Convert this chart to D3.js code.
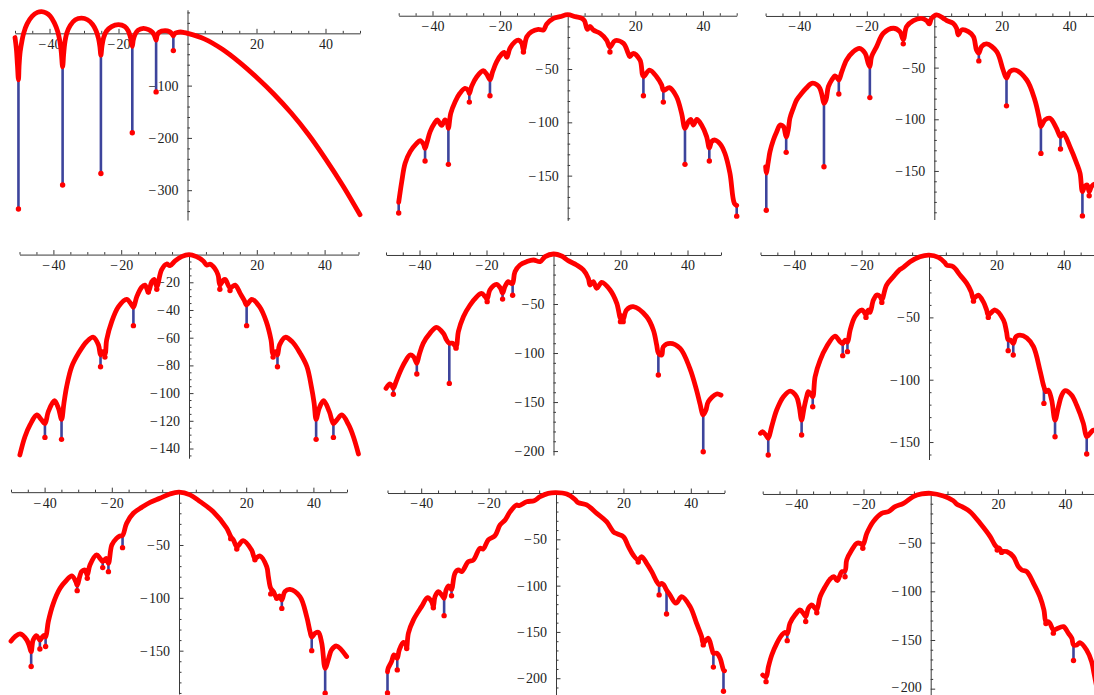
<!DOCTYPE html>
<html>
<head>
<meta charset="utf-8">
<script src="https://cdn.jsdelivr.net/npm/d3@7"></script>
<style>
  body { margin: 0; background: #fff; }
  svg { display: block; }
</style>
</head>
<body>
<svg id="chart" width="1094" height="695"></svg>
<script>
// labelled x ticks, shared by every panel
const xTickLabels = [-40, -20, 20, 40];

// each panel: curve points [x, y] and nulls [x, top of spike, bottom of spike]
const curve1 = [[-50,-8],[-49.6,-30],[-49.3,-60],[-49,-89],
  [-48.8,-60],[-48.5,-35],[-48,-15],[-47.5,0],[-46.5,18],[-45,33],[-43.5,40],[-42.3,41.5],[-41,39],[-39.8,33],[-38.6,20],[-37.6,3],[-37,-15],[-36.6,-35],[-36.2,-64],
  [-35.9,-40],[-35.6,-20],[-35,0],[-34,15],[-32.5,26],[-30.7,29],[-29,26],[-27.5,17],[-26.5,5],[-25.8,-10],[-25.4,-25],[-25.1,-42],
  [-24.8,-25],[-24.3,-8],[-23.5,4],[-22,13],[-20,16.5],[-18.2,13],[-17.2,5],[-16.6,-6],[-16.3,-14],[-16,-25],
  [-15.7,-12],[-15.2,-2],[-14.3,6],[-12.8,9.5],[-11.3,7],[-10.2,2],[-9.6,-4],[-9.1,-13],
  [-8.8,-4],[-8.2,2],[-6.5,5],[-5.2,3],[-4.5,-1],[-4.1,-5],
  [-3.8,-1],[-3,1.5],[-2,2.5],[-1,1.5],[0,0],
  [5,-11],[10,-30],[15,-55],[20,-84],[25,-116],[30,-152],[35,-193],[40,-240],[45,-291],[50,-347]];
const nulls1 = [[-49,-89,-336],[-36.2,-64,-290],[-25.1,-42,-268],[-16,-25,-190],[-9.1,-13,-112],[-4.1,-5,-33]];

const curve2 = [[-50,-175],[-49.1,-155.6],[-48.1,-138.4],[-46.6,-127.5],[-44.7,-119.7],[-43.7,-117.2],[-42.7,-120.3],[-42.2,-124.4],
  [-41.7,-119.7],[-40.7,-108.8],[-39.3,-100.3],[-38.6,-97.8],[-37.3,-102.8],[-36.3,-97.8],[-35.6,-101],[-35.3,-105.6],
  [-34.6,-91.6],[-33.3,-80.6],[-31.9,-72.8],[-30.4,-68.1],[-29.4,-70.3],[-29.1,-73],
  [-28.4,-66],[-26.9,-57.2],[-25,-51.6],[-24,-54.7],[-23,-60],
  [-22.2,-52.5],[-21,-43.1],[-19.5,-35.9],[-18.8,-34.4],[-18,-39],
  [-17.1,-30.6],[-15.6,-24.4],[-14.6,-22.8],[-13.6,-25.9],[-13.1,-32],
  [-12.1,-19.7],[-10.7,-15],[-8.7,-12.8],[-7.2,-13.4],[-6.2,-7.8],[-4.2,-2.5],[-2.3,-0.9],[0,1],
  [2.3,-0.9],[4.2,-2.5],[5,-5],[5.8,-12.8],[6.6,-10],[7.6,-13.4],[9.6,-16.6],[11.5,-22.8],[12.5,-29.4],
  [14,-23.4],[16.5,-25.9],[17.9,-35.3],[18.4,-38.4],[19.4,-35.3],[21.4,-41.6],[22.4,-57],
  [24.2,-51],[26.3,-57.2],[27.8,-65],[28.3,-70],
  [30.1,-67.5],[32.2,-76],[33.7,-91.6],[34.7,-105.6],
  [35.7,-99.4],[36.4,-97.2],[37.2,-102.5],[38.2,-97.2],[39.6,-102.5],[41.1,-113.4],[41.9,-124],
  [42.6,-118],[43.6,-116.6],[45.1,-120.3],[46.5,-129],[48,-147.8],[49.3,-176],[50,-178]];
const nulls2 = [[-50,-175,-185],[-42.2,-124.4,-136.3],[-35.3,-105.6,-139.4],[-29.1,-73,-81],[-23,-60,-75],[-13.1,-32,-34],
  [12.5,-29.4,-34],[22.4,-57,-75],[28.3,-70,-81],[34.7,-105.6,-139.4],[41.9,-124,-136.3],[50,-178,-188]];

const curve3 = [[-50,-145.8],[-49.8,-152],[-49.2,-141],[-48.7,-131.3],[-47.7,-120],[-46.7,-112],[-45.7,-105.5],[-44.7,-107.1],[-43.9,-117],
  [-43.3,-110.3],[-42.8,-99],[-41.8,-89.4],[-40.8,-81.3],[-39.3,-74.8],[-38,-70],[-36.3,-65.2],[-34.8,-66.5],[-33.9,-70],[-33.2,-78],[-32.7,-84.5],
  [-32.1,-81.3],[-31.4,-68.4],[-30.4,-62],[-29.4,-58],[-28.7,-60.3],[-28.3,-62],
  [-27.4,-53.9],[-26,-42.6],[-24,-34.5],[-22.2,-31.3],[-20.5,-36.1],[-19.6,-45.8],[-19.1,-49],
  [-18.6,-39.4],[-17.1,-29.7],[-15.1,-16.8],[-12.1,-11.9],[-10.2,-15.2],[-9.2,-23],
  [-8.2,-10.3],[-6.2,-4.5],[-3.8,-2.3],[-2.3,-4.5],[-1.5,-7.7],[-0.8,-2.3],[0.7,1],[2.7,-2.3],[3.7,-4.5],[5.6,-7.1],[6.6,-11.9],[7.1,-18.4],[8.1,-13.5],[10.1,-15.2],[11.6,-20],[12.5,-32.9],[13.2,-36],
  [14,-29.7],[15.5,-27.1],[18.5,-34.5],[20.4,-52.3],[21.4,-60],
  [22.4,-53.9],[23.9,-52.3],[27.4,-62],[29.8,-81.3],[31.1,-99],[31.6,-107],
  [32.8,-100.6],[34.3,-99],[36.2,-108.7],[37.4,-116.8],
  [38.2,-113.5],[40.2,-126.5],[42.2,-142.6],[43.2,-152.3],[43.9,-170],
  [44.6,-165],[45.3,-163.5],[45.9,-170],[46.6,-165],[47.6,-162.6],[49,-166]];
const nulls3 = [[-49.8,-152,-188],[-43.9,-117,-132],[-32.7,-84.5,-146],[-28.3,-62,-75.5],[-19.1,-49,-79],[-9.2,-23,-27],
  [13.2,-36,-43.5],[21.4,-60,-87],[31.6,-107,-133],[37.4,-116.8,-128.7],[43.9,-170,-193.5],[45.9,-170,-174]];

const curve4 = [[-49.9,-144.7],[-48.4,-131.5],[-46.9,-123],[-44.9,-115.8],[-43.5,-119.4],[-42.5,-122],
  [-41.5,-113.4],[-39.7,-105.5],[-38.5,-111],[-37.6,-119],
  [-36.9,-107.4],[-36.1,-95.4],[-34.6,-80.9],[-32.6,-71.3],[-30.2,-62.9],[-28.2,-59.7],[-26.7,-65.3],[-26.1,-72.5],[-25.5,-70.1],[-24.8,-72],
  [-24.3,-61.7],[-22.8,-48.4],[-20.8,-37.6],[-18.4,-32.3],[-16.9,-36.4],[-16.4,-38],
  [-15.4,-30.4],[-14,-23.7],[-13,-22],[-12,-27],[-11,-19.6],[-10.3,-17.9],[-9.5,-23],
  [-8.1,-11.1],[-6.6,-6.8],[-5.6,-8],[-4.1,-4.6],[-2.2,-1.5],[0,0],
  [2.2,-1.5],[4.2,-4.6],[5.2,-7.5],[6.3,-7],[7.6,-10],[8.6,-15],[9.1,-22],
  [10.1,-18.5],[10.7,-18],[12.1,-24],[13.6,-22],[15.1,-28],[16.3,-33],[17,-36.4],
  [18.5,-32.3],[20.8,-37.6],[22.8,-48.4],[24.2,-61.7],[24.8,-72],[25.5,-70],[26.1,-72.5],
  [26.7,-65.3],[28.4,-59.7],[30.5,-63],[32.8,-71.3],[34.8,-81],[36.1,-95.4],[36.9,-107],[37.5,-119],
  [38.4,-111],[39.7,-105.5],[41.4,-113.4],[42.6,-122],
  [43.6,-119.4],[45.1,-115.8],[47.1,-123],[48.5,-131.5],[50,-144]];
const nulls4 = [[-42.5,-122,-132],[-37.6,-119,-133.4],[-26.1,-72.5,-81],[-24.8,-72,-74],[-16.4,-38,-51.3],[-12,-27,-27],[-9.5,-23,-25],
  [9.1,-22,-25],[12.1,-24,-26],[17,-36.4,-51.3],[24.8,-72,-74],[26.1,-72.5,-81],[37.5,-119,-133.4],[42.6,-122,-132]];

const curve5 = [[-50,-136],[-48.8,-131.6],[-48.2,-133.7],[-47.8,-136],
  [-47,-129.3],[-45.8,-119],[-44.3,-108.8],[-42.8,-102],[-41.8,-103.7],[-41.2,-107.8],[-40.8,-110.5],
  [-40.1,-102],[-38.9,-90.1],[-36.9,-79.9],[-34.9,-73.8],[-32.9,-79.9],[-31.9,-86.7],[-31.1,-90],[-30.1,-90],[-29.1,-93.5],
  [-28.4,-78.2],[-26.9,-62.9],[-24.9,-51],[-22.9,-42.5],[-21.5,-39.1],[-20.4,-42.5],[-19.8,-45],
  [-19,-35.7],[-17,-29.9],[-15.8,-34],[-15.2,-39],
  [-14.5,-32.3],[-13.5,-27.2],[-12.7,-28.9],[-12.2,-29],
  [-11.5,-17],[-10,-10.2],[-8,-6.8],[-6,-5.1],[-4,-6.8],[-2.5,-1.7],[0,1],[2.4,-1],[4.4,-5.8],[6.9,-10.2],[8.9,-15.3],[10.4,-23.8],[10.9,-30.6],[11.9,-27.2],[12.9,-34],[14.4,-27.9],[16.9,-35.7],[18.9,-49.3],[20,-64.6],
  [20.4,-62],[20.8,-66],
  [21.8,-56.1],[23.8,-52.7],[27.8,-62.9],[29.8,-76.5],[30.8,-91.8],[31.3,-100],[32.3,-102],
  [32.8,-93.5],[34.8,-90.1],[37.8,-95.2],[40.7,-115.6],[42.7,-137.8],[43.7,-151.4],[44.7,-163],
  [45.5,-158.2],[46.2,-149.7],[48.7,-141.8],[50,-143]];
const nulls5 = [[-47.8,-136,-142],[-40.8,-110.5,-121.4],[-31.1,-90,-131],[-29.1,-93.5,-95],[-19.8,-45,-47.6],[-15.2,-39,-45],[-12.2,-29,-41],
  [20,-64.6,-68],[20.8,-66,-68],[31.3,-100,-122.4],[44.7,-163,-200.7]];

const curve6 = [[-50,-143],[-49.4,-141.7],[-48.4,-144.4],[-47.7,-147],
  [-46.7,-137.7],[-45.2,-124.3],[-43.2,-113.6],[-41.2,-109.1],[-39.3,-113.6],[-38.5,-121.7],[-37.8,-132.4],
  [-37.1,-123],[-36.3,-113.6],[-35.8,-109.6],[-35.1,-111.5],[-34.5,-113.6],
  [-33.8,-97.6],[-32.3,-84.2],[-30.4,-73.5],[-27.9,-65],[-26.4,-69.5],[-25.6,-71],[-24.9,-68.2],[-24.2,-70],
  [-23.4,-60.2],[-22,-49.5],[-20,-44.1],[-19.3,-45.5],[-18.7,-48],[-18,-44.1],[-17.5,-46],
  [-16.5,-36.1],[-15.5,-32.1],[-14.5,-33.4],[-14,-36],
  [-12.6,-24.1],[-10.6,-17.4],[-8.6,-11.5],[-7.6,-9.9],[-5.6,-5.3],[-2.7,-1.3],[0,0],
  [2.8,-1.9],[4.7,-6.1],[5.2,-8],[7.2,-9.4],[9.2,-16],[11.2,-22.7],[12.5,-29.4],[13.2,-34.8],
  [14.6,-32.1],[16.1,-37.4],[17.1,-44.1],[17.6,-48],
  [19.6,-44.1],[22.1,-52.1],[23,-61.5],[23.5,-68],[24.2,-68.2],[25,-70.9],[25.8,-65.5],
  [27,-64.2],[29,-66.5],[31,-73.5],[32.9,-92.2],[33.7,-101.6],[34.1,-105.6],
  [34.7,-109.6],[35.4,-108.3],[36.4,-116.3],[37.4,-132.4],
  [38.4,-121.7],[39.4,-112.3],[40.4,-108.8],[42.3,-112.3],[43.8,-120.3],[45.8,-135],[46.8,-145.7],
  [47.8,-143],[48.8,-140.4],[50,-142]];
const nulls6 = [[-47.7,-147,-160.4],[-37.8,-132.4,-144.4],[-34.5,-113.6,-121.7],[-25.6,-71,-80.7],[-24.2,-70,-77.5],[-18.7,-48,-50],[-14,-36,-38],
  [13.2,-34.8,-37],[17.6,-48,-50],[23.5,-68,-76.7],[25,-70.9,-80.2],[34.1,-105.6,-119],[37.4,-132.4,-145.7],[46.8,-145.7,-159.6]];

const curve7 = [[-50,-141],[-48.8,-136.7],[-47.3,-134.2],[-45.3,-139.9],[-44.5,-146.2],[-44,-151],
  [-43.4,-139.9],[-42.4,-135.8],[-41.4,-140],
  [-40.6,-136.7],[-40.2,-135.5],[-39.7,-137],
  [-38.9,-122.5],[-37.4,-105.2],[-35.4,-91],[-33.4,-83.1],[-31.9,-79.3],[-30.7,-84.7],[-30.3,-88],
  [-29,-75.2],[-28,-73.6],[-27.3,-78.4],
  [-26.5,-68.9],[-24.5,-59.4],[-23.5,-62.6],[-22.7,-65.7],[-21.7,-62.6],[-21,-67.3],
  [-20,-50],[-18.6,-43.7],[-17.6,-41.5],[-16.8,-41],
  [-15.6,-29.5],[-13.6,-20],[-11.1,-14.4],[-8.6,-9.6],[-5.7,-5.8],[-2.7,-1.7],[0,0],
  [3.3,-2.6],[6.3,-9],[10.2,-18.5],[14.2,-34.2],[15.4,-42],[16.2,-45.2],[17.2,-51.6],
  [19.1,-45.9],[21.6,-54.7],[22.6,-62.6],[24.1,-60.4],[26.1,-70.5],[26.6,-80],[27.3,-91],
  [28.1,-94.1],[29.1,-100],[29.9,-98.2],[30.6,-102],
  [31.5,-94.1],[33,-92],[36,-98.9],[38,-117.8],[39,-132],[39.5,-137],
  [40.5,-133.6],[41.5,-132.6],[42.5,-143],[43.5,-166.7],
  [44.4,-158.8],[45.4,-149.3],[46.9,-145.6],[49.9,-155.6]];
const nulls7 = [[-44,-151,-165],[-41.4,-140,-148.4],[-39.7,-137,-146],[-30.3,-88,-93.2],[-27.3,-78.4,-81.5],[-22.7,-65.7,-71.4],[-21,-67.3,-75.2],[-16.8,-41,-52.5],
  [15.4,-42,-44],[17.2,-51.6,-53.8],[22.6,-62.6,-64],[27.3,-91,-96.3],[29.1,-100,-100.5],[30.6,-102,-110],[39.5,-137,-150],[43.5,-166.7,-190.3]];

const curve8 = [[-50,-193],[-49.8,-189.2],[-48.8,-182],[-48.1,-174.8],[-47.5,-177.3],[-47.1,-178.4],
  [-46.5,-169.4],[-45.3,-161.2],[-44.5,-164],[-44.3,-167],
  [-43.8,-151.4],[-42.3,-137],[-39.9,-122.7],[-38.1,-113],[-36.9,-117.3],[-36.4,-122.7],
  [-35.9,-111.9],[-34.9,-106.5],[-33.9,-110.1],[-33.2,-113.7],
  [-32.6,-104.7],[-31.9,-100.4],[-31.5,-101.8],[-31,-104],
  [-30,-86.7],[-29,-83.1],[-28,-84.9],[-26,-74.1],[-24.5,-72.3],[-22.6,-59.7],[-21.6,-60.4],[-20.1,-50.7],[-18.1,-46],[-16.6,-34.5],[-15.1,-29.1],[-13.6,-20.1],[-11.7,-12.9],[-10.9,-13.7],[-8.7,-9.4],[-6.5,-8.3],[-4.7,-4],[-2.3,-0.4],[0,0.4],
  [3.2,-1.1],[5.6,-6.8],[6.6,-10.4],[9.1,-12.9],[12.1,-21.9],[15,-30.9],[17,-41.7],[18.2,-44.2],[20,-47.1],[21.5,-57.9],[22.9,-66.9],[24.4,-72.3],
  [25.4,-68.7],[26.9,-75.9],[28.4,-84.9],[29.9,-95.7],[30.6,-99],
  [31.4,-97.5],[32,-99.3],[32.8,-104.7],
  [33.8,-110],[35.6,-119],[37.3,-111.9],[39.8,-122.7],[41.7,-140.6],[43.2,-155],[43.7,-162],
  [45.2,-156.8],[46.2,-167.6],[46.7,-173],
  [47.7,-173],[48.7,-178.4],[49.7,-191],[50,-192]];
const nulls8 = [[-50,-193,-216],[-47.1,-178.4,-191],[-44.3,-167,-168],[-36.4,-122.7,-124],[-33.2,-113.7,-132.4],[-31,-104,-111],
  [24.4,-72.3,-74.5],[30.6,-99,-110],[32.8,-104.7,-130.6],[43.7,-162,-164],[46.7,-173,-188],[49.7,-191,-214]];

const curve9 = [[-50,-186],[-49,-188],[-48.3,-177.4],[-47.3,-165.4],[-45.8,-153.4],[-44.3,-144.9],[-43.4,-142.1],[-42.7,-143.5],
  [-41.9,-132.9],[-40.4,-124.3],[-38.9,-119.2],[-37.9,-122.6],[-37.2,-126],
  [-36.4,-117.5],[-35.4,-114],[-34.4,-117.5],[-33.9,-119],
  [-32.9,-105.5],[-31.4,-95.2],[-30,-87.7],[-28.8,-84.9],[-27.8,-89],[-26.5,-80],[-25.5,-79],
  [-25,-67.8],[-23.5,-57.5],[-22,-50.7],[-21,-50.7],[-20.2,-52.4],
  [-19,-40.4],[-17.1,-28.4],[-14.6,-19.9],[-12.6,-18.2],[-10.6,-13],[-8.1,-9.6],[-5.2,-2.7],[-2.7,0],[0,0.7],
  [3.8,-2],[6.7,-6.8],[7.7,-10.3],[9.7,-13.7],[11.7,-18.2],[14.7,-30.1],[17.7,-43.8],[19.1,-52.4],[19.8,-55],
  [20.4,-55.8],[21.1,-58.6],[22.6,-59.2],[24.6,-64.4],[26.1,-74.7],[27.1,-78.1],[28.6,-79.8],[30.6,-91.8],[32.5,-105.5],[33.7,-119.2],[34.3,-131],
  [35,-131.2],[35.5,-132.9],[36.5,-139.7],
  [37.3,-139],[39.5,-136.3],[41,-143.2],[42,-148.3],[42.5,-155],
  [43.5,-155.1],[44.4,-152.7],[46.4,-160.3],[47.9,-172.3],[48.6,-184.2],[49.5,-200]];
const nulls9 = [[-49,-188,-192.8],[-42.7,-143.5,-150.7],[-37.2,-126,-131],[-33.9,-119,-122],[-25.5,-79,-85],[-20.2,-52.4,-55.8],
  [19.8,-55,-57.5],[21.1,-58.6,-60],[34.3,-131,-133],[36.5,-139.7,-143],[42.5,-155,-171]];

// labelled y ticks per panel
const yTicks1 = [-300, -200, -100];
const yTicks2 = [-150, -100, -50];
const yTicks3 = [-150, -100, -50];
const yTicks4 = [-140, -120, -100, -80, -60, -40, -20];
const yTicks5 = [-200, -150, -100, -50];
const yTicks6 = [-150, -100, -50];
const yTicks7 = [-150, -100, -50];
const yTicks8 = [-200, -150, -100, -50];
const yTicks9 = [-200, -150, -100, -50];

// where each panel sits on the page
const panels = [
  {curve: curve1, nulls: nulls1, yTicks: yTicks1, minor: 20, yDomain: [-357, 45], xRange: [15, 360],   yRange: [220, 9.8]},
  {curve: curve2, nulls: nulls2, yTicks: yTicks2, minor: 10, yDomain: [-192, 2],  xRange: [398.7, 736.7], yRange: [220.4, 13.6]},
  {curve: curve3, nulls: nulls3, yTicks: yTicks3, minor: 10, yDomain: [-197, 2],  xRange: [765.6, 1103], yRange: [219.5, 13.9]},
  {curve: curve4, nulls: nulls4, yTicks: yTicks4, minor: 5,  yDomain: [-147, 1],  xRange: [19.5, 358.5], yRange: [458.2, 253.2]},
  {curve: curve5, nulls: nulls5, yTicks: yTicks5, minor: 10, yDomain: [-204, 1],  xRange: [386, 721],    yRange: [455, 254]},
  {curve: curve6, nulls: nulls6, yTicks: yTicks6, minor: 10, yDomain: [-164, 1],  xRange: [760.5, 1097.5], yRange: [459.5, 253.8]},
  {curve: curve7, nulls: nulls7, yTicks: yTicks7, minor: 10, yDomain: [-191, 1],  xRange: [11, 347],     yRange: [694, 491.1]},
  {curve: curve8, nulls: nulls8, yTicks: yTicks8, minor: 10, yDomain: [-218, 1],  xRange: [387.5, 724.5], yRange: [694.9, 492.1]},
  {curve: curve9, nulls: nulls9, yTicks: yTicks9, minor: 10, yDomain: [-206, 1],  xRange: [762.7, 1098.7], yRange: [694.5, 493]}
];

const svg = d3.select('#chart');
const fmt = d => d < 0 ? '\u2212\u200A' + Math.abs(d) : String(d);
const red = '#ff0000', blue = '#3d449c', axisColor = '#3a3a3a';

panels.forEach(p => {
  const x = d3.scaleLinear().domain([-50, 50]).range(p.xRange);
  const y = d3.scaleLinear().domain(p.yDomain).range(p.yRange);
  const g = svg.append('g');

  // x axis: minor ticks every 5, labelled every 20
  const xMinor = d3.range(-50, 50.01, 5).filter(v => v !== 0 && xTickLabels.indexOf(v) < 0);
  const gx = g.append('g').attr('transform', `translate(0,${y(0)})`);
  gx.append('g').call(d3.axisBottom(x).tickValues(xMinor).tickSize(-2.5).tickSizeOuter(0).tickFormat(''));
  gx.append('g').call(d3.axisBottom(x).tickValues(xTickLabels).tickSize(-4.5).tickSizeOuter(0).tickPadding(5.5).tickFormat(fmt))
    .select('.domain').remove();

  // y axis
  const yMinor = d3.range(Math.ceil(p.yDomain[0] / p.minor) * p.minor, p.yDomain[1] + 0.01, p.minor)
    .filter(v => v !== 0 && p.yTicks.indexOf(v) < 0);
  const gy = g.append('g').attr('transform', `translate(${x(0)},0)`);
  gy.append('g').call(d3.axisLeft(y).tickValues(yMinor).tickSize(-2.5).tickSizeOuter(0).tickFormat(''));
  gy.append('g').call(d3.axisLeft(y).tickValues(p.yTicks).tickSize(-4.5).tickSizeOuter(0).tickPadding(9).tickFormat(fmt))
    .select('.domain').remove();

  g.selectAll('.domain, .tick line').attr('stroke', axisColor).attr('stroke-width', 1);
  g.selectAll('.tick text')
    .attr('fill', '#222')
    .attr('font-family', '"Liberation Serif", "Times New Roman", serif')
    .attr('font-size', 14);
  // keep a label sitting right at the bottom edge inside the page
  gy.selectAll('.tick').filter(d => y(d) > 686).select('text').attr('dy', '0.2em');

  // blue spikes at the nulls
  g.selectAll('line.spike').data(p.nulls).enter().append('line')
    .attr('class', 'spike')
    .attr('x1', d => x(d[0])).attr('x2', d => x(d[0]))
    .attr('y1', d => y(d[1])).attr('y2', d => y(d[2]))
    .attr('stroke', blue).attr('stroke-width', 2.6);

  // the red curve
  const line = d3.line().x(d => x(d[0])).y(d => y(d[1])).curve(d3.curveCatmullRom.alpha(0.5));
  g.append('path').datum(p.curve)
    .attr('d', line)
    .attr('fill', 'none')
    .attr('stroke', red)
    .attr('stroke-width', 4.8)
    .attr('stroke-linejoin', 'round')
    .attr('stroke-linecap', 'round');

  // red dots at the spike bottoms
  g.selectAll('circle.bottom').data(p.nulls).enter().append('circle')
    .attr('class', 'bottom')
    .attr('cx', d => x(d[0])).attr('cy', d => y(d[2]))
    .attr('r', 2.7).attr('fill', red);
});
</script>
</body>
</html>
